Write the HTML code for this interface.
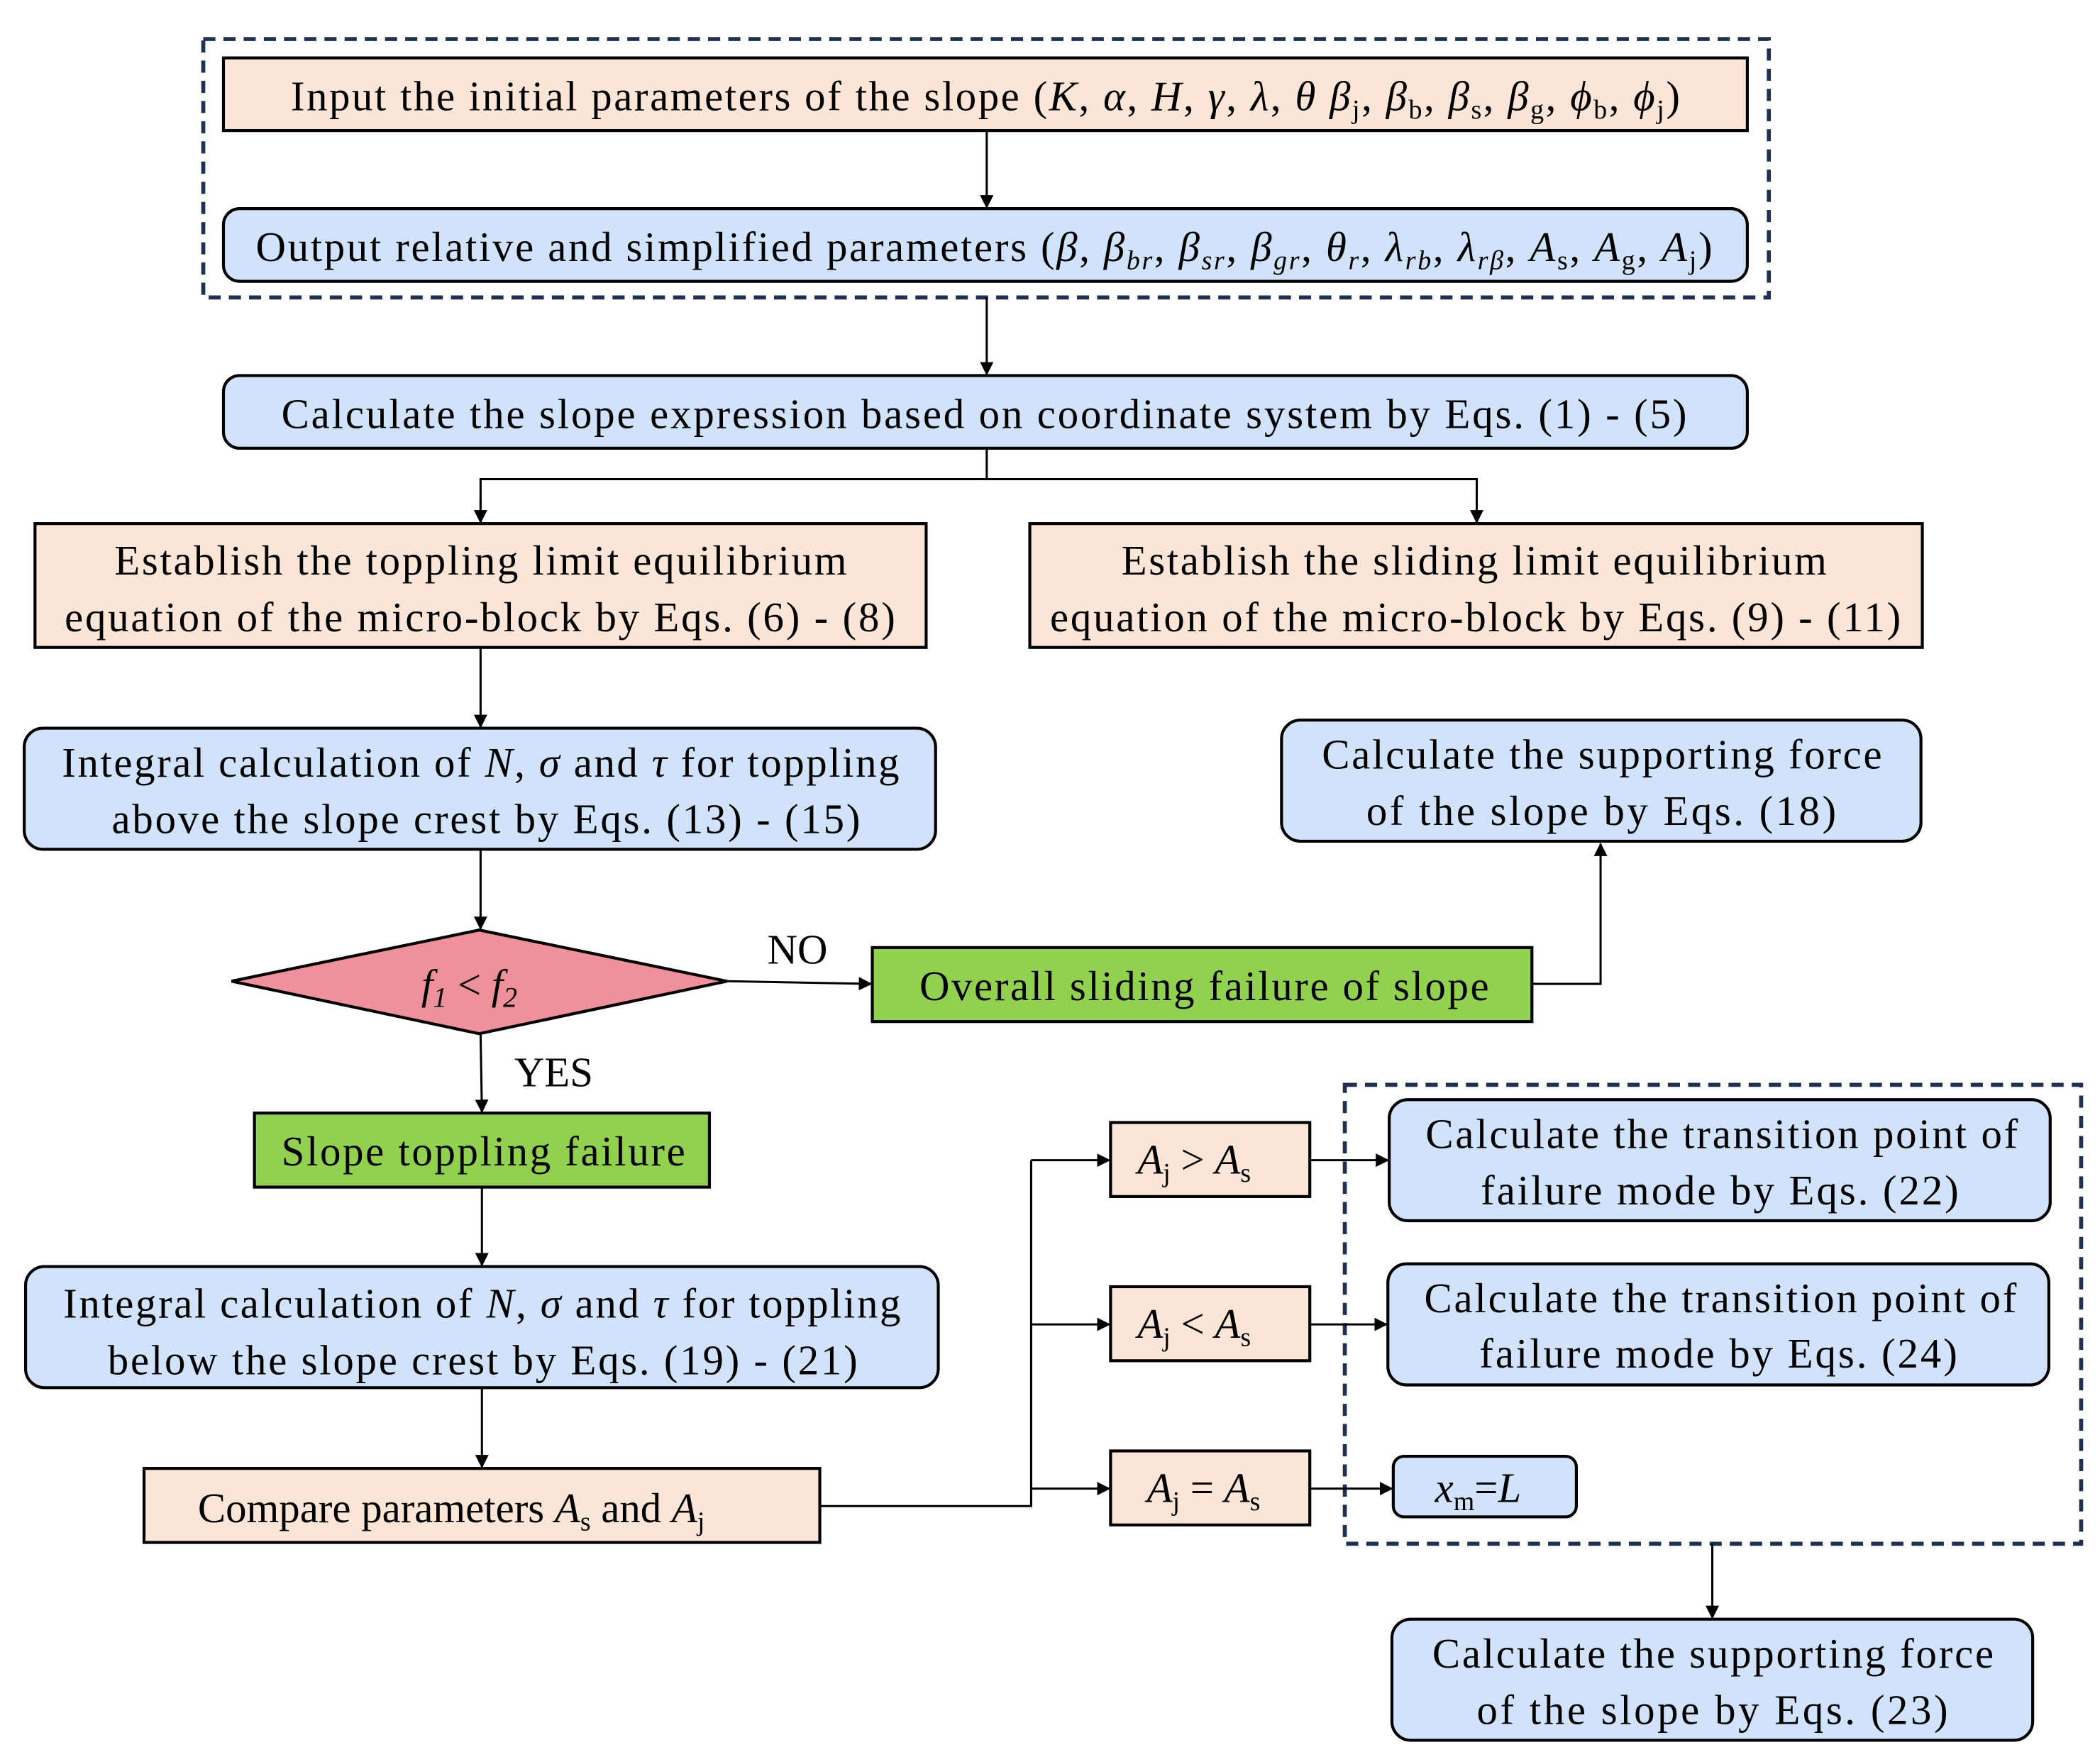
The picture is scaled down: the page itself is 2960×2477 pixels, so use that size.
<!DOCTYPE html>
<html><head><meta charset="utf-8"><style>html,body{margin:0;padding:0;background:#fff}svg{display:block}</style></head>
<body>
<svg width="2960" height="2477" viewBox="0 0 1560 1305.4" xmlns="http://www.w3.org/2000/svg" font-family="'Liberation Serif', serif" font-size="31" fill="#000">
<defs>
<marker id="a" markerWidth="10" markerHeight="10" refX="9" refY="5" orient="auto" markerUnits="userSpaceOnUse"><path d="M0,0 L10,5 L0,10 z" fill="#000"/></marker>
</defs>
<g fill="none" stroke="#1f3052" stroke-width="3" stroke-dasharray="9,6">
<rect x="151" y="29" width="1163" height="192"/>
<rect x="999" y="806" width="547" height="341"/>
</g>
<g stroke="#000" stroke-width="2.2">
<rect x="166" y="43" width="1132" height="54" fill="#fbe5d6"/>
<rect x="166" y="155" width="1132" height="54" rx="12" fill="#d0e3fb"/>
<rect x="166" y="279" width="1132" height="54" rx="12" fill="#d0e3fb"/>
<rect x="26" y="389" width="662" height="92" fill="#fbe5d6"/>
<rect x="765" y="389" width="663" height="92" fill="#fbe5d6"/>
<rect x="18" y="541" width="677" height="90" rx="14" fill="#d0e3fb"/>
<rect x="952" y="535" width="475" height="90" rx="14" fill="#d0e3fb"/>
<polygon points="172,729 356,691 540,729 356,768" fill="#ef919a"/>
<rect x="648" y="704" width="490" height="55" fill="#92d050"/>
<rect x="189" y="827" width="338" height="55" fill="#92d050"/>
<rect x="19" y="941" width="678" height="90" rx="14" fill="#d0e3fb"/>
<rect x="107" y="1091" width="502" height="55" fill="#fbe5d6"/>
<rect x="825" y="834" width="148" height="55" fill="#fbe5d6"/>
<rect x="825" y="956" width="148" height="55" fill="#fbe5d6"/>
<rect x="825" y="1078" width="148" height="55" fill="#fbe5d6"/>
<rect x="1032" y="817" width="491" height="90" rx="14" fill="#d0e3fb"/>
<rect x="1031" y="939" width="491" height="90" rx="14" fill="#d0e3fb"/>
<rect x="1035" y="1082" width="136" height="45" rx="8" fill="#d0e3fb"/>
<rect x="1034" y="1203" width="476" height="90" rx="14" fill="#d0e3fb"/>
</g>
<g stroke="#000" stroke-width="1.6" fill="none">
<line x1="733" y1="97" x2="733" y2="154" marker-end="url(#a)"/>
<line x1="733" y1="221" x2="733" y2="278" marker-end="url(#a)"/>
<polyline points="733,333 733,356"/>
<polyline points="357,388 357,356 1097,356 1097,388" />
<line x1="357" y1="370" x2="357" y2="388" marker-end="url(#a)"/>
<line x1="1097" y1="370" x2="1097" y2="388" marker-end="url(#a)"/>
<line x1="357" y1="481" x2="357" y2="540" marker-end="url(#a)"/>
<line x1="357" y1="631" x2="357" y2="690" marker-end="url(#a)"/>
<line x1="540" y1="729" x2="647" y2="731" marker-end="url(#a)"/>
<polyline points="1138,731 1189,731 1189,627" marker-end="url(#a)"/>
<line x1="357" y1="768" x2="358" y2="826" marker-end="url(#a)"/>
<line x1="358" y1="882" x2="358" y2="940" marker-end="url(#a)"/>
<line x1="358" y1="1031" x2="358" y2="1090" marker-end="url(#a)"/>
<polyline points="609,1119 766,1119 766,862"/>
<line x1="766" y1="862" x2="824" y2="862" marker-end="url(#a)"/>
<line x1="766" y1="984" x2="824" y2="984" marker-end="url(#a)"/>
<line x1="766" y1="1106" x2="824" y2="1106" marker-end="url(#a)"/>
<line x1="973" y1="862" x2="1031" y2="862" marker-end="url(#a)"/>
<line x1="973" y1="984" x2="1030" y2="984" marker-end="url(#a)"/>
<line x1="973" y1="1106" x2="1034" y2="1106" marker-end="url(#a)"/>
<line x1="1272" y1="1147" x2="1272" y2="1202" marker-end="url(#a)"/>
</g>
<g text-anchor="start">
<text x="216" y="82" textLength="1032">Input the initial parameters of the slope (<tspan font-style="italic">K</tspan>, <tspan font-style="italic">α</tspan>, <tspan font-style="italic">H</tspan>, <tspan font-style="italic">γ</tspan>, <tspan font-style="italic">λ</tspan>, <tspan font-style="italic">θ β</tspan><tspan font-size="20" dy="6">j</tspan><tspan dy="-6">, </tspan><tspan font-style="italic">β</tspan><tspan font-size="20" dy="6">b</tspan><tspan dy="-6">, </tspan><tspan font-style="italic">β</tspan><tspan font-size="20" dy="6">s</tspan><tspan dy="-6">, </tspan><tspan font-style="italic">β</tspan><tspan font-size="20" dy="6">g</tspan><tspan dy="-6">, </tspan><tspan font-style="italic">ϕ</tspan><tspan font-size="20" dy="6">b</tspan><tspan dy="-6">, </tspan><tspan font-style="italic">ϕ</tspan><tspan font-size="20" dy="6">j</tspan><tspan dy="-6">)</tspan></text>
<text x="190" y="194" textLength="1082">Output relative and simplified parameters (<tspan font-style="italic">β</tspan>, <tspan font-style="italic">β</tspan><tspan font-size="20" dy="6" font-style="italic">br</tspan><tspan dy="-6">, </tspan><tspan font-style="italic">β</tspan><tspan font-size="20" dy="6" font-style="italic">sr</tspan><tspan dy="-6">, </tspan><tspan font-style="italic">β</tspan><tspan font-size="20" dy="6" font-style="italic">gr</tspan><tspan dy="-6">, </tspan><tspan font-style="italic">θ</tspan><tspan font-size="20" dy="6" font-style="italic">r</tspan><tspan dy="-6">, </tspan><tspan font-style="italic">λ</tspan><tspan font-size="20" dy="6" font-style="italic">rb</tspan><tspan dy="-6">, </tspan><tspan font-style="italic">λ</tspan><tspan font-size="20" dy="6" font-style="italic">rβ</tspan><tspan dy="-6">, </tspan><tspan font-style="italic">A</tspan><tspan font-size="20" dy="6">s</tspan><tspan dy="-6">, </tspan><tspan font-style="italic">A</tspan><tspan font-size="20" dy="6">g</tspan><tspan dy="-6">, </tspan><tspan font-style="italic">A</tspan><tspan font-size="20" dy="6">j</tspan><tspan dy="-6">)</tspan></text>
<text x="209" y="318" textLength="1044">Calculate the slope expression based on coordinate system by Eqs. (1) - (5)</text>
<text x="85" y="427" textLength="544">Establish the toppling limit equilibrium</text>
<text x="48" y="469" textLength="617">equation of the micro-block by Eqs. (6) - (8)</text>
<text x="833" y="427" textLength="524">Establish the sliding limit equilibrium</text>
<text x="780" y="469" textLength="632">equation of the micro-block by Eqs. (9) - (11)</text>
<text x="46" y="577" textLength="622">Integral calculation of <tspan font-style="italic">N</tspan>, <tspan font-style="italic">σ</tspan> and <tspan font-style="italic">τ</tspan> for toppling</text>
<text x="83" y="619" textLength="556">above the slope crest by Eqs. (13) - (15)</text>
<text x="982" y="571" textLength="416">Calculate the supporting force</text>
<text x="1015" y="613" textLength="349">of the slope  by Eqs. (18)</text>
<text x="313" y="742" font-style="italic">f<tspan font-size="21" dy="6">1</tspan><tspan dy="-6" font-style="normal"> &lt; </tspan>f<tspan font-size="21" dy="6">2</tspan></text>
<text x="570" y="716">NO</text>
<text x="683" y="743" textLength="423">Overall sliding failure of slope</text>
<text x="382" y="807">YES</text>
<text x="209" y="866" textLength="300">Slope toppling failure</text>
<text x="47" y="979" textLength="622">Integral calculation of <tspan font-style="italic">N</tspan>, <tspan font-style="italic">σ</tspan> and <tspan font-style="italic">τ</tspan> for toppling</text>
<text x="80" y="1021" textLength="557">below the slope crest by Eqs. (19) - (21)</text>
<text x="147" y="1131">Compare parameters <tspan font-style="italic">A</tspan><tspan font-size="20" dy="6">s</tspan><tspan dy="-6"> and </tspan><tspan font-style="italic">A</tspan><tspan font-size="20" dy="6">j</tspan></text>
<text x="845" y="872"><tspan font-style="italic">A</tspan><tspan font-size="20" dy="6">j</tspan><tspan dy="-6"> &gt; </tspan><tspan font-style="italic">A</tspan><tspan font-size="20" dy="6">s</tspan></text>
<text x="845" y="994"><tspan font-style="italic">A</tspan><tspan font-size="20" dy="6">j</tspan><tspan dy="-6"> &lt; </tspan><tspan font-style="italic">A</tspan><tspan font-size="20" dy="6">s</tspan></text>
<text x="852" y="1116"><tspan font-style="italic">A</tspan><tspan font-size="20" dy="6">j</tspan><tspan dy="-6"> = </tspan><tspan font-style="italic">A</tspan><tspan font-size="20" dy="6">s</tspan></text>
<text x="1059" y="853" textLength="440">Calculate the transition point of</text>
<text x="1100" y="895" textLength="355">failure mode by Eqs. (22)</text>
<text x="1058" y="975" textLength="440">Calculate the transition point of</text>
<text x="1099" y="1016" textLength="355">failure mode by Eqs. (24)</text>
<text x="1066" y="1116"><tspan font-style="italic">x</tspan><tspan font-size="20" dy="6">m</tspan><tspan dy="-6">=</tspan><tspan font-style="italic">L</tspan></text>
<text x="1064" y="1239" textLength="417">Calculate the supporting force</text>
<text x="1097" y="1281" textLength="350">of the slope  by Eqs. (23)</text>
</g>
</svg>
</body></html>
